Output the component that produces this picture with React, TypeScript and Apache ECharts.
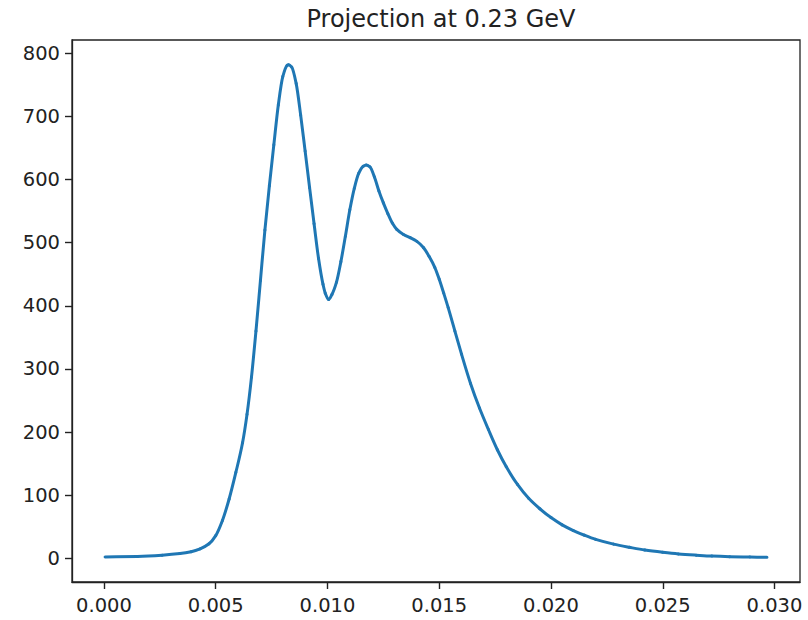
import React, { useEffect, useRef } from "react";
import * as echarts from "echarts";

// Projected intensity profile
const xValues: number[] = [
  0.00005, 0.0015, 0.0026, 0.0034, 0.0039, 0.0043, 0.0047, 0.005, 0.0053, 0.0056,
  0.0059, 0.0062, 0.0064, 0.0066, 0.0068, 0.007, 0.0072, 0.0074, 0.0076, 0.0078,
  0.008, 0.0082, 0.00826, 0.0084, 0.0086, 0.0088, 0.009, 0.0092, 0.0094, 0.0096,
  0.0098, 0.0099, 0.01005, 0.0102, 0.0104, 0.0106, 0.0108, 0.011, 0.0112, 0.0114,
  0.0116, 0.01173, 0.0119, 0.0121, 0.0123, 0.0125, 0.0127, 0.0129, 0.0131, 0.0134,
  0.0137, 0.014, 0.0143, 0.01455, 0.0148, 0.015, 0.0152, 0.0154, 0.0157, 0.016,
  0.0164, 0.0168, 0.0172, 0.0176, 0.018, 0.0185, 0.019, 0.0195, 0.02, 0.0205,
  0.021, 0.0215, 0.022, 0.0228, 0.0235, 0.0242, 0.025, 0.0257, 0.0265, 0.0272,
  0.028, 0.0289, 0.02966,
];

const yValues: number[] = [
  2, 3, 5, 7.5, 10.5, 15, 23, 36, 60, 94,
  136, 183, 228, 287, 360, 440, 520, 590, 655, 718,
  763, 781, 782, 778, 752, 702, 645, 587, 530, 475,
  434, 420, 410, 418, 437, 470, 510, 552, 586, 610,
  621, 623, 620, 604, 582, 563, 546, 531, 521, 513,
  508, 502, 492, 478, 461, 442, 420, 397, 360, 323,
  277, 238, 204, 172, 145, 117, 95, 78.5, 64.5, 53,
  44, 36.5, 30, 22.5, 17.5, 13, 9.5, 7, 5, 3.5,
  2.6, 2, 1.5,
];

const xTicks: number[] = [0, 0.005, 0.01, 0.015, 0.02, 0.025, 0.03];
const yTicks: number[] = [0, 100, 200, 300, 400, 500, 600, 700, 800];

const titleText = "Projection at 0.23 GeV";

// 5% padding around the data range on both axes
function paddedRange(values: number[]): [number, number] {
  const lo = Math.min(...values);
  const hi = Math.max(...values);
  const pad = (hi - lo) * 0.05;
  return [lo - pad, hi + pad];
}

// Monotone (PCHIP) tangents, so the drawn curve never overshoots the samples
function pchipSlopes(xs: number[], ys: number[]): number[] {
  const n = xs.length;
  const h: number[] = [];
  const d: number[] = [];
  for (let k = 0; k < n - 1; k++) {
    h.push(xs[k + 1] - xs[k]);
    d.push((ys[k + 1] - ys[k]) / h[k]);
  }
  const m: number[] = new Array(n).fill(0);
  m[0] = d[0];
  m[n - 1] = d[n - 2];
  for (let k = 1; k < n - 1; k++) {
    if (d[k - 1] * d[k] <= 0) {
      m[k] = 0;
    } else {
      const w1 = 2 * h[k] + h[k - 1];
      const w2 = h[k] + 2 * h[k - 1];
      m[k] = (w1 + w2) / (w1 / d[k - 1] + w2 / d[k]);
    }
  }
  return m;
}

const FONT = "DejaVu Sans";
const INK = "#222";
const LINE_COLOR = "#1f77b4";

export default function App() {
  const ref = useRef<HTMLDivElement>(null);

  useEffect(() => {
    if (!ref.current) return;
    const chart = echarts.init(ref.current, undefined, { renderer: "svg" });
    const [xMin, xMax] = paddedRange(xValues);
    const [yMin, yMax] = paddedRange(yValues);
    const slopes = pchipSlopes(xValues, yValues);

    const gridLeft = 72;
    const gridTop = 40;
    const gridWidth = 728;
    const gridHeight = 542;

    // Each item draws the cubic Hermite segment to the next sample as a bezier
    const renderSegment = (params: any, api: any) => {
      const i = params.dataIndex;
      if (i >= xValues.length - 1) return null;
      const x0 = xValues[i];
      const x1 = xValues[i + 1];
      const y0 = yValues[i];
      const y1 = yValues[i + 1];
      const third = (x1 - x0) / 3;
      const p0 = api.coord([x0, y0]);
      const p1 = api.coord([x1, y1]);
      const c0 = api.coord([x0 + third, y0 + slopes[i] * third]);
      const c1 = api.coord([x1 - third, y1 - slopes[i + 1] * third]);
      return {
        type: "bezierCurve",
        shape: {
          x1: p0[0],
          y1: p0[1],
          x2: p1[0],
          y2: p1[1],
          cpx1: c0[0],
          cpy1: c0[1],
          cpx2: c1[0],
          cpy2: c1[1],
        },
        style: {
          stroke: LINE_COLOR,
          lineWidth: 3,
          fill: "none",
          lineCap: "round",
        },
      };
    };

    chart.setOption({
      animation: false,
      backgroundColor: "#fff",
      title: {
        text: titleText,
        left: gridLeft + gridWidth / 2,
        top: 2,
        textAlign: "center",
        textStyle: {
          fontFamily: FONT,
          fontSize: 24,
          fontWeight: "normal",
          color: INK,
        },
      },
      grid: {
        left: gridLeft,
        top: gridTop,
        width: gridWidth,
        height: gridHeight,
        show: true,
        borderColor: INK,
        borderWidth: 1.3,
        backgroundColor: "transparent",
      },
      xAxis: {
        type: "value",
        min: xMin,
        max: xMax,
        splitLine: { show: false },
        axisLine: { show: true, onZero: false, lineStyle: { color: INK, width: 1.3 } },
        axisTick: {
          show: true,
          length: 7,
          customValues: xTicks,
          lineStyle: { color: INK, width: 1.4 },
        },
        axisLabel: {
          customValues: xTicks,
          margin: 13,
          fontFamily: FONT,
          fontSize: 19.5,
          color: INK,
          formatter: (v: number) => v.toFixed(3),
        },
      },
      yAxis: {
        type: "value",
        min: yMin,
        max: yMax,
        splitLine: { show: false },
        axisLine: { show: true, onZero: false, lineStyle: { color: INK, width: 1.3 } },
        axisTick: {
          show: true,
          length: 7,
          customValues: yTicks,
          lineStyle: { color: INK, width: 1.4 },
        },
        axisLabel: {
          customValues: yTicks,
          margin: 12,
          fontFamily: FONT,
          fontSize: 19.5,
          color: INK,
          formatter: (v: number) => String(Math.round(v)),
        },
      },
      series: [
        {
          type: "custom",
          data: xValues.map((x, i) => [x, yValues[i]]),
          encode: { x: 0, y: 1 },
          renderItem: renderSegment,
          clip: true,
        },
      ],
    });

    return () => chart.dispose();
  }, []);

  return (
    <div
      ref={ref}
      style={{ position: "fixed", left: 0, top: 0, width: 808, height: 620, background: "#fff" }}
    />
  );
}
